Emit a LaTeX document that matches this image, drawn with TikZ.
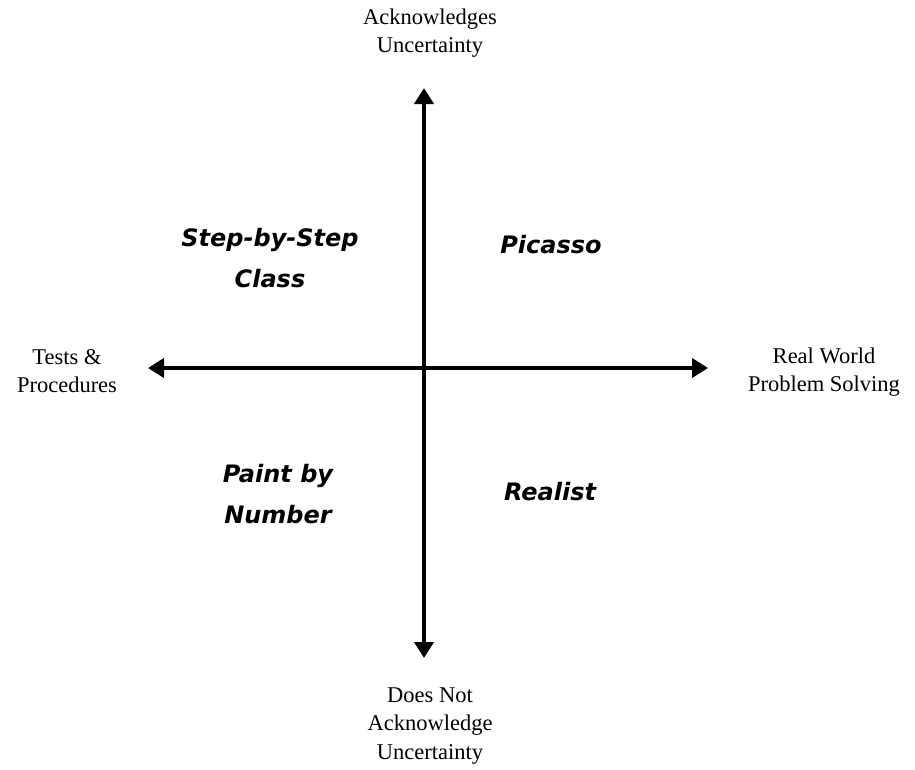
\documentclass[tikz,border=0pt]{standalone}
\usepackage{fontspec}
\setmainfont{Liberation Serif}
\newfontfamily\quadfont{DejaVu Sans}
\usetikzlibrary{arrows.meta}
\begin{document}
\begin{tikzpicture}[x=1pt,y=-1pt,
  axis/.style={line width=4.5pt,{Triangle[length=16pt,width=19pt]}-{Triangle[length=16pt,width=19pt]}},
  polelabel/.style={align=center,font=\fontsize{22.5}{28.5}\selectfont,inner sep=0pt},
  quadlabel/.style={align=center,font=\quadfont\bfseries\itshape\fontsize{24}{41}\selectfont,inner sep=0pt}]
  \useasboundingbox (0,0) rectangle (915,769);
  % axis end points
  \coordinate (top) at (424,88);
  \coordinate (bottom) at (424,658);
  \coordinate (left) at (148,368);
  \coordinate (right) at (708,368);
  \draw[axis] (bottom) -- (top);
  \draw[axis] (left) -- (right);
  % pole labels
  \node[polelabel] (n) at (430,33) {Acknowledges\\Uncertainty};
  \node[polelabel] (s) at (430,726) {Does Not\\Acknowledge\\Uncertainty};
  \node[polelabel] (w) at (67,371) {Tests \&\\Procedures};
  \node[polelabel] (e) at (824,372) {Real World\\Problem Solving};
  % quadrant names
  \node[quadlabel] (q1) at (270,258) {Step-by-Step\\Class};
  \node[quadlabel] (q2) at (551,245) {Picasso};
  \node[quadlabel] (q3) at (278,494) {Paint by\\Number};
  \node[quadlabel] (q4) at (550,492) {Realist};
\end{tikzpicture}
\end{document}
